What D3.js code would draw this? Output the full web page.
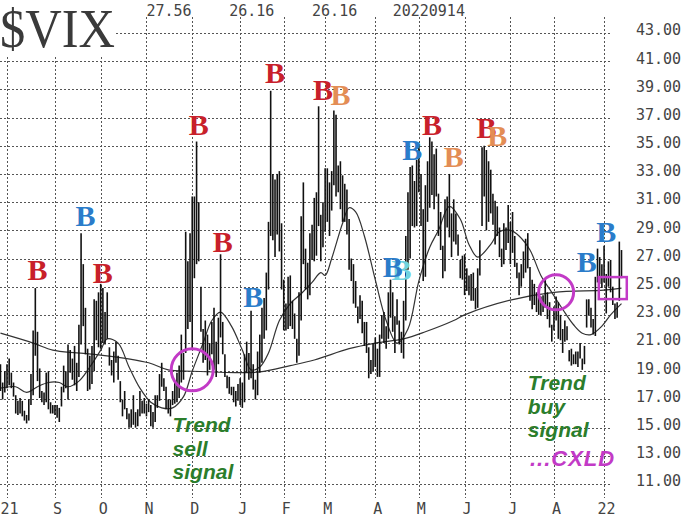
<!DOCTYPE html>
<html><head><meta charset="utf-8">
<script src="https://cdn.jsdelivr.net/npm/d3@7/dist/d3.min.js"></script>
<style>body{margin:0;background:#fff}svg{display:block}</style>
</head><body><svg id="c" width="700" height="520"></svg>
<script>
// ---- daily VIX bars (date, high, low) ----
const dates = [
"2021-07-28","2021-07-29","2021-07-30",
"2021-08-02","2021-08-03","2021-08-04","2021-08-05","2021-08-06","2021-08-09","2021-08-10","2021-08-11","2021-08-12","2021-08-13","2021-08-16","2021-08-17","2021-08-18","2021-08-19","2021-08-20","2021-08-23","2021-08-24","2021-08-25","2021-08-26","2021-08-27","2021-08-30","2021-08-31",
"2021-09-01","2021-09-02","2021-09-03","2021-09-07","2021-09-08","2021-09-09","2021-09-10","2021-09-13","2021-09-14","2021-09-15","2021-09-16","2021-09-17","2021-09-20","2021-09-21","2021-09-22","2021-09-23","2021-09-24","2021-09-27","2021-09-28","2021-09-29","2021-09-30",
"2021-10-01","2021-10-04","2021-10-05","2021-10-06","2021-10-07","2021-10-08","2021-10-11","2021-10-12","2021-10-13","2021-10-14","2021-10-15","2021-10-18","2021-10-19","2021-10-20","2021-10-21","2021-10-22","2021-10-25","2021-10-26","2021-10-27","2021-10-28","2021-10-29",
"2021-11-01","2021-11-02","2021-11-03","2021-11-04","2021-11-05","2021-11-08","2021-11-09","2021-11-10","2021-11-11","2021-11-12","2021-11-15","2021-11-16","2021-11-17","2021-11-18","2021-11-19","2021-11-22","2021-11-23","2021-11-24","2021-11-26","2021-11-29","2021-11-30",
"2021-12-01","2021-12-02","2021-12-03","2021-12-06","2021-12-07","2021-12-08","2021-12-09","2021-12-10","2021-12-13","2021-12-14","2021-12-15","2021-12-16","2021-12-17","2021-12-20","2021-12-21","2021-12-22","2021-12-23","2021-12-27","2021-12-28","2021-12-29","2021-12-30","2021-12-31",
"2022-01-03","2022-01-04","2022-01-05","2022-01-06","2022-01-07","2022-01-10","2022-01-11","2022-01-12","2022-01-13","2022-01-14","2022-01-18","2022-01-19","2022-01-20","2022-01-21","2022-01-24","2022-01-25","2022-01-26","2022-01-27","2022-01-28","2022-01-31",
"2022-02-01","2022-02-02","2022-02-03","2022-02-04","2022-02-07","2022-02-08","2022-02-09","2022-02-10","2022-02-11","2022-02-14","2022-02-15","2022-02-16","2022-02-17","2022-02-18","2022-02-22","2022-02-23","2022-02-24","2022-02-25","2022-02-28",
"2022-03-01","2022-03-02","2022-03-03","2022-03-04","2022-03-07","2022-03-08","2022-03-09","2022-03-10","2022-03-11","2022-03-14","2022-03-15","2022-03-16","2022-03-17","2022-03-18","2022-03-21","2022-03-22","2022-03-23","2022-03-24","2022-03-25","2022-03-28","2022-03-29","2022-03-30","2022-03-31",
"2022-04-01","2022-04-04","2022-04-05","2022-04-06","2022-04-07","2022-04-08","2022-04-11","2022-04-12","2022-04-13","2022-04-14","2022-04-18","2022-04-19","2022-04-20","2022-04-21","2022-04-22","2022-04-25","2022-04-26","2022-04-27","2022-04-28","2022-04-29",
"2022-05-02","2022-05-03","2022-05-04","2022-05-05","2022-05-06","2022-05-09","2022-05-10","2022-05-11","2022-05-12","2022-05-13","2022-05-16","2022-05-17","2022-05-18","2022-05-19","2022-05-20","2022-05-23","2022-05-24","2022-05-25","2022-05-26","2022-05-27","2022-05-31",
"2022-06-01","2022-06-02","2022-06-03","2022-06-06","2022-06-07","2022-06-08","2022-06-09","2022-06-10","2022-06-13","2022-06-14","2022-06-15","2022-06-16","2022-06-17","2022-06-21","2022-06-22","2022-06-23","2022-06-24","2022-06-27","2022-06-28","2022-06-29","2022-06-30",
"2022-07-01","2022-07-05","2022-07-06","2022-07-07","2022-07-08","2022-07-11","2022-07-12","2022-07-13","2022-07-14","2022-07-15","2022-07-18","2022-07-19","2022-07-20","2022-07-21","2022-07-22","2022-07-25","2022-07-26","2022-07-27","2022-07-28","2022-07-29",
"2022-08-01","2022-08-02","2022-08-03","2022-08-04","2022-08-05","2022-08-08","2022-08-09","2022-08-10","2022-08-11","2022-08-12","2022-08-15","2022-08-16","2022-08-17","2022-08-18","2022-08-19","2022-08-22","2022-08-23","2022-08-24","2022-08-25","2022-08-26","2022-08-29","2022-08-30","2022-08-31",
"2022-09-01","2022-09-02","2022-09-06","2022-09-07","2022-09-08","2022-09-09","2022-09-12","2022-09-13","2022-09-14"];

const highs = [
19.5,18.2,19.0,
19.5,19.9,18.9,18.2,17.3,16.9,17.1,16.9,16.2,15.9,17.0,18.8,21.9,24.9,21.8,19.2,17.6,17.5,18.9,19.0,16.8,16.6,
16.6,16.6,16.4,17.9,19.4,19.0,20.9,20.5,19.9,20.8,19.6,22.3,28.8,26.6,23.5,20.6,20.1,20.8,24.1,24.0,24.6,
25.2,24.9,23.2,24.6,20.7,19.8,20.4,21.1,20.1,18.3,17.0,17.6,16.4,16.0,16.3,17.3,16.1,16.3,17.6,16.9,17.1,
16.7,17.0,16.6,16.1,17.3,17.3,18.8,19.6,18.5,17.9,17.0,17.0,17.6,18.2,18.9,19.4,21.6,20.3,28.9,26.8,28.8,
31.4,31.4,35.3,31.0,25.0,22.0,22.6,21.6,21.0,22.5,23.5,21.1,22.8,27.3,22.5,20.2,18.7,18.6,17.9,17.9,17.6,18.1,
18.5,18.2,20.2,21.1,20.3,23.3,19.5,18.4,20.4,21.6,23.5,24.2,26.0,29.6,38.9,33.0,32.6,33.0,33.2,29.5,
25.5,23.8,25.7,25.8,24.0,23.1,21.3,24.6,30.0,32.4,27.7,26.7,28.8,29.4,31.3,31.7,37.8,30.1,31.0,
33.4,33.4,32.4,33.2,37.5,37.2,33.6,33.9,32.9,32.3,31.9,29.8,27.0,26.6,25.4,23.6,24.4,24.0,22.5,22.5,20.7,19.8,21.0,
21.4,20.6,21.6,23.0,23.2,22.2,24.6,25.5,24.6,22.9,24.1,22.6,21.8,24.0,28.6,31.7,33.5,33.6,32.5,34.0,
35.1,33.0,30.5,32.2,33.9,35.6,35.3,34.4,34.8,31.6,30.3,27.9,31.2,31.4,33.0,30.2,31.2,30.2,28.7,26.9,27.2,
27.3,26.3,25.8,25.9,26.0,24.9,26.3,28.3,34.9,35.0,34.7,33.9,33.3,31.6,31.1,30.7,29.2,27.7,29.5,29.2,30.8,
29.6,30.3,28.6,26.7,26.0,26.6,27.5,28.4,28.8,26.4,25.5,25.2,24.6,24.2,24.3,24.4,25.6,24.6,23.9,22.3,
23.6,24.3,23.9,23.0,22.0,22.6,22.2,20.5,20.6,20.2,20.4,20.4,21.0,19.9,20.8,24.1,24.1,23.5,22.7,25.7,27.7,27.1,26.6,
27.9,25.9,26.8,26.9,25.0,23.8,23.9,28.2,27.6];

const lows = [
17.6,17.0,17.5,
17.8,18.0,17.8,17.2,16.0,15.9,16.0,15.8,15.5,15.3,15.5,16.6,17.3,20.1,18.3,17.1,16.8,16.6,16.8,16.3,16.0,16.0,
15.9,15.7,15.4,16.5,17.5,17.8,17.0,18.9,18.4,18.0,17.6,18.6,20.9,22.2,20.2,17.6,17.7,18.1,19.0,21.2,20.7,
20.6,21.0,20.9,21.3,19.4,18.7,18.2,19.6,18.4,16.8,15.8,16.3,15.6,15.0,15.0,15.2,15.0,15.1,15.8,16.0,16.0,
15.8,16.1,15.1,15.0,15.4,16.4,16.9,17.9,17.6,16.3,16.0,15.8,16.6,16.7,16.8,17.1,18.2,18.4,20.3,22.0,22.5,
20.6,25.6,26.6,26.8,21.8,19.6,19.8,18.7,19.1,20.2,19.1,18.6,19.5,21.4,20.2,18.6,17.8,17.4,17.3,16.8,16.5,16.9,
16.6,16.4,16.8,18.9,18.4,18.5,17.7,17.0,17.3,18.9,19.6,21.3,21.9,24.8,28.6,28.3,27.1,28.7,27.5,24.8,
21.9,21.9,22.0,22.2,22.0,21.3,19.6,20.1,22.6,26.6,24.8,24.1,24.4,26.9,26.8,27.2,29.3,26.8,27.8,
28.9,29.6,28.6,30.4,32.2,31.4,31.7,30.5,29.6,29.6,28.7,26.2,25.4,23.8,23.5,22.4,22.7,21.7,20.8,20.3,18.5,18.8,19.0,
19.3,18.6,18.6,21.3,21.0,20.6,21.3,22.8,21.8,20.3,22.3,20.9,20.3,19.9,22.6,26.2,27.0,29.3,29.2,29.3,
31.7,29.3,25.4,25.7,29.6,30.6,31.5,30.5,31.4,28.6,27.6,25.6,26.1,29.2,28.5,27.1,28.2,28.0,27.2,25.6,25.5,
24.4,24.7,24.4,24.0,24.0,23.4,23.5,25.8,29.3,31.4,29.0,29.6,30.2,29.4,28.0,28.6,27.1,26.4,26.6,27.6,28.1,
26.6,27.4,26.4,25.6,24.4,25.0,25.6,26.0,26.3,24.0,23.4,23.7,23.2,23.0,23.0,23.2,23.5,22.7,22.1,21.1,
21.9,22.6,21.3,21.2,20.3,21.1,21.2,19.7,19.4,19.5,19.5,19.3,19.9,19.1,19.5,22.1,23.0,22.1,21.6,21.5,25.3,25.2,24.9,
25.3,23.1,25.0,24.6,23.7,22.7,22.8,24.0,25.6];

// ---- moving averages ----
const ma20Dates = ["2021-07-28","2021-08-06","2021-08-13","2021-08-20","2021-08-27","2021-09-03","2021-09-10","2021-09-17","2021-09-24","2021-10-01","2021-10-06","2021-10-13","2021-10-20","2021-10-27","2021-11-03","2021-11-10","2021-11-17","2021-11-24","2021-12-01","2021-12-08","2021-12-14","2021-12-20","2021-12-28","2022-01-04","2022-01-10","2022-01-14","2022-01-21","2022-01-28","2022-02-04","2022-02-11","2022-02-18","2022-02-25","2022-03-01","2022-03-04","2022-03-11","2022-03-16","2022-03-21","2022-03-25","2022-04-01","2022-04-08","2022-04-18","2022-04-25","2022-05-02","2022-05-09","2022-05-13","2022-05-20","2022-05-27","2022-06-03","2022-06-09","2022-06-17","2022-06-24","2022-07-01","2022-07-08","2022-07-15","2022-07-22","2022-07-29","2022-08-05","2022-08-12","2022-08-18","2022-08-24","2022-08-31","2022-09-07","2022-09-14"];
const ma20Values = [17.8,17.9,17.5,17.9,18.2,18.2,17.9,18.3,19.3,20.5,21.3,21.0,19.3,17.8,16.8,16.4,16.4,17.2,19.0,21.0,22.6,23.2,22.2,20.5,19.1,19.3,20.3,22.6,23.8,24.5,25.3,26.0,25.8,27.0,29.5,30.6,30.3,28.6,25.5,22.6,21.0,22.0,25.4,27.8,29.0,30.7,29.8,28.0,27.1,28.0,28.9,29.0,28.6,27.6,25.8,24.6,23.4,22.3,21.7,21.6,22.2,23.0,23.8];

const ma200Dates = ["2021-07-28","2021-08-18","2021-08-31","2021-09-16","2021-10-01","2021-11-02","2021-11-15","2021-12-01","2022-01-03","2022-01-14","2022-02-04","2022-02-22","2022-03-16","2022-04-01","2022-04-21","2022-05-05","2022-05-24","2022-06-01","2022-07-01","2022-08-01","2022-09-01","2022-09-14"];
const ma200Values = [21.7,21.0,20.5,20.3,20.15,19.6,19.1,19.0,18.9,18.95,19.4,19.8,20.6,21.0,21.3,21.8,22.6,23.0,24.05,24.6,24.75,24.9];

// ---- axes / labels ----
const yTicks = [43,41,39,37,35,33,31,29,27,25,23,21,19,17,15,13,11];
const monthTickDates = ["2021-08-02","2021-09-01","2021-10-01","2021-11-01","2021-12-01","2022-01-03","2022-02-01","2022-03-01","2022-04-01","2022-05-02","2022-06-01","2022-07-01","2022-08-01","2022-09-01"];
const monthTickLabels = ["21","S","O","N","D","J","F","M","A","M","J","J","A","22"];
const headerDates = ["2021-11-01","2021-12-27","2022-02-18","2022-04-13"];
const headerLabels = ["27.56","26.16","26.16","20220914"];

// ---- "B" signals ----
const signalDates  = ["2021-08-20","2021-09-22","2021-10-04","2021-12-06","2021-12-21","2022-01-11","2022-01-26","2022-02-28","2022-03-10","2022-04-20","2022-04-13","2022-04-27","2022-05-10","2022-05-24","2022-06-15","2022-06-23","2022-08-22","2022-09-02"];
const signalLevels = [26.2,30.0,26.0,36.5,28.2,24.3,40.2,38.95,38.6,26.2,26.4,34.7,36.5,34.2,36.3,35.7,26.8,28.9];
const signalKinds  = ["red","blue","red","red","red","blue","red","red","orange","cyan","blue","blue","red","orange","red","orange","blue","blue"];
const signalColor = {red:"#c8202a", blue:"#2a7cca", orange:"#e38d55", cyan:"#6fd3e0"};

// ---- annotations ----
const circleDates = ["2021-12-01","2022-08-02"];
const circleLevels = [19.1,24.6];
const circleRadii = [21,17.5];
const boxDate = "2022-09-08", boxLevel = 24.9;
const noteDates = ["2021-11-17","2022-07-14","2022-07-15"];
const noteLevels = [14.68,17.66,12.27];
const noteLines = [["Trend","sell","signal"],["Trend","buy","signal"],["...CXLD"]];
const noteColors = ["#2b7d2b","#2b7d2b","#c23ac6"];
const noteSizes = [21,21,22];

// ================= drawing =================
const svg = d3.select("#c");
const x = d3.scalePoint().domain(dates).range([0.46, 621.5]);
const y = d3.scaleLinear().domain([11, 43]).range([484, 33]);
const gridRight = 610;
const mono = "'DejaVu Sans Mono', monospace";

// grid
const grid = svg.append("g").attr("stroke", "#555").attr("stroke-width", 1).attr("stroke-dasharray", "2,2").attr("fill","none");
grid.selectAll("line.h").data(yTicks).join("line").attr("class","h")
  .attr("x1", 0).attr("x2", gridRight).attr("y1", d => Math.round(y(d))+0.5).attr("y2", d => Math.round(y(d))+0.5);
grid.selectAll("line.v").data(monthTickDates).join("line").attr("class","v")
  .attr("x1", d => Math.round(x(d))+0.5).attr("x2", d => Math.round(x(d))+0.5).attr("y1", 17).attr("y2", 498);

// y axis labels (right)
const yAxis = d3.axisRight(y).tickValues(yTicks).tickFormat(d3.format(".2f")).tickSize(0).tickPadding(0);
const ya = svg.append("g").attr("transform", "translate(636,-3)").call(yAxis);
ya.select(".domain").remove();
ya.selectAll("text").attr("font-family", mono).attr("font-size", 15).attr("fill", "#444");

// bottom month labels
const xAxis = d3.axisBottom(x).tickValues(monthTickDates).tickFormat((d,i) => monthTickLabels[i]).tickSize(0).tickPadding(0);
const xa = svg.append("g").attr("transform", "translate(2,503)").call(xAxis);
xa.select(".domain").remove();
xa.selectAll("text").attr("font-family", mono).attr("font-size", 15).attr("fill", "#444");

// header numbers
svg.append("g").selectAll("text").data(headerDates).join("text")
  .attr("x", d => x(d)).attr("y", 16).text((d,i) => headerLabels[i])
  .attr("font-family", mono).attr("font-size", 15).attr("fill", "#444");

// title block
svg.append("rect").attr("x",0).attr("y",0).attr("width",115).attr("height",57).attr("fill","#fff");
svg.append("text").attr("x",0).attr("y",47).text("$VIX")
  .attr("font-family","'Liberation Serif', 'Times New Roman', serif").attr("font-size",54)
  .attr("textLength",115).attr("lengthAdjust","spacingAndGlyphs").attr("fill","#3a3a3a");

// moving averages
const line = d3.line().x(d => x(d[0])).y(d => y(d[1])).curve(d3.curveCatmullRom.alpha(0.5));
svg.append("path").datum(d3.zip(ma200Dates, ma200Values)).attr("d", line)
  .attr("fill","none").attr("stroke","#333").attr("stroke-width",1.2);
svg.append("path").datum(d3.zip(ma20Dates, ma20Values)).attr("d", line)
  .attr("fill","none").attr("stroke","#333").attr("stroke-width",1.2);

// price bars
svg.append("g").attr("stroke","#111").attr("stroke-width",1.6)
  .selectAll("line").data(dates).join("line")
  .attr("x1", d => x(d)).attr("x2", d => x(d))
  .attr("y1", (d,i) => y(highs[i])).attr("y2", (d,i) => y(lows[i]));

// circles and box
const magenta = "#c23ac6";
svg.append("g").selectAll("circle").data(circleDates).join("circle")
  .attr("cx", d => x(d)).attr("cy", (d,i) => y(circleLevels[i])).attr("r", (d,i) => circleRadii[i])
  .attr("fill","none").attr("stroke", magenta).attr("stroke-width", 3);
svg.append("rect").attr("x", x(boxDate)-14).attr("y", y(boxLevel)-11).attr("width",28).attr("height",22)
  .attr("fill","none").attr("stroke", magenta).attr("stroke-width", 2.5);

// B signals
svg.append("g").selectAll("text").data(signalDates).join("text")
  .attr("x", d => x(d)).attr("y", (d,i) => y(signalLevels[i])).attr("dy","0.34em")
  .attr("text-anchor","middle").text("B")
  .attr("font-family","'Liberation Serif', 'Times New Roman', serif").attr("font-weight","bold").attr("font-size",30)
  .attr("fill", (d,i) => signalColor[signalKinds[i]]);

// notes
noteDates.forEach((d,i) => {
  const t = svg.append("text").attr("x", x(d)).attr("y", y(noteLevels[i]))
    .attr("font-family","'Liberation Sans', Arial, sans-serif").attr("font-weight","bold").attr("font-style","italic")
    .attr("font-size",noteSizes[i]).attr("letter-spacing", i === 2 ? 1 : 0).attr("fill", noteColors[i]);
  noteLines[i].forEach((s,j) => t.append("tspan").attr("x", x(d)).attr("dy", j ? 23.5 : 0).text(s));
});
</script></body></html>
